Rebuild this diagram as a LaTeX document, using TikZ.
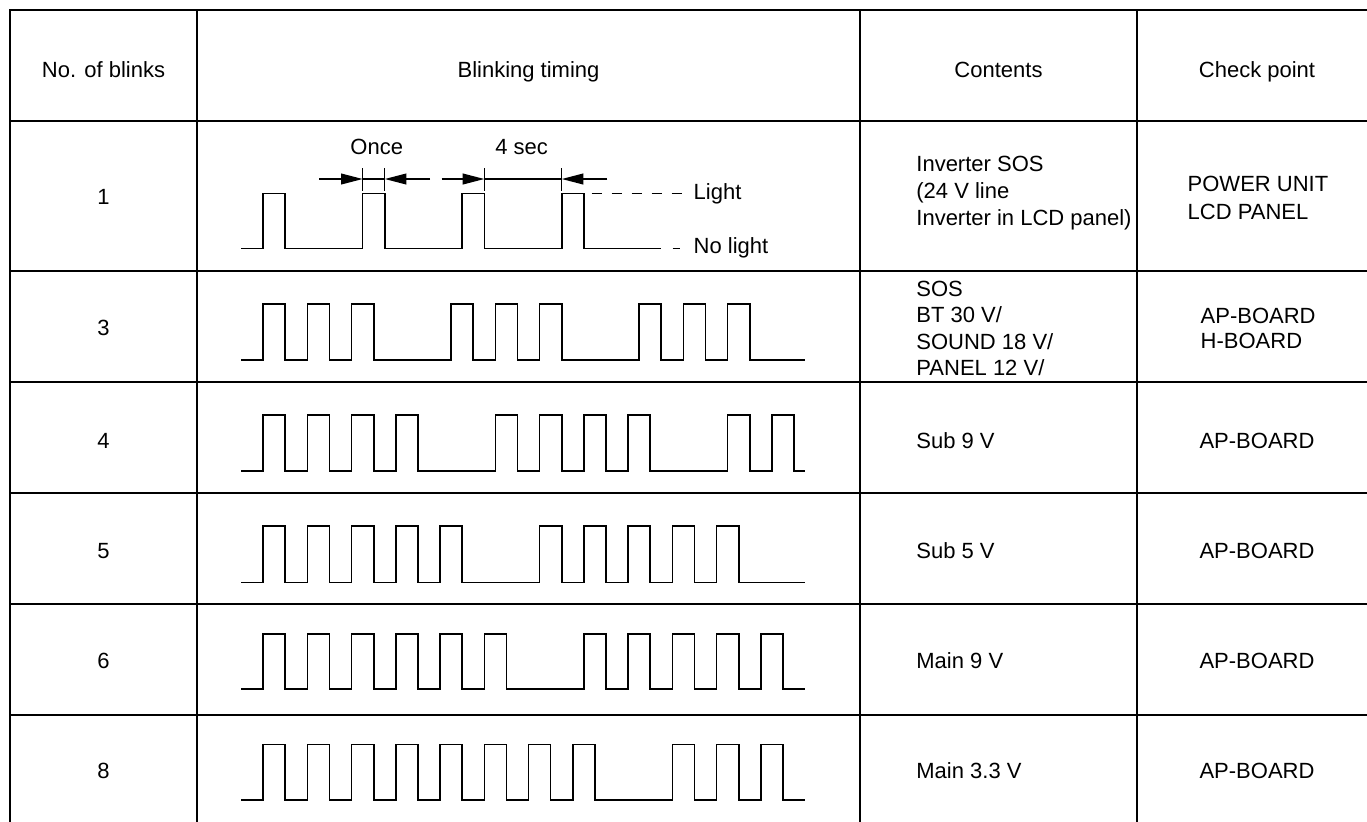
\documentclass[tikz,border=0pt]{standalone}
\usepackage{fontspec}
\setmainfont{Liberation Sans}
\usetikzlibrary{arrows.meta}
\newcommand{\mywave}[4]{% #1 high y, #2 low y, #3 rise list (units), #4 end (units)
  \draw[wave] (241,#2) \foreach \r in {#3} { -- ({241+\r*22.12},#2) -- ({241+\r*22.12},#1) -- ({241+(\r+1)*22.12},#1) -- ({241+(\r+1)*22.12},#2) } -- ({241+#4*22.12},#2);
}
\begin{document}
\begin{tikzpicture}[x=0.5pt,y=-0.5pt,
  rule/.style={line width=1pt,line cap=rect},
  wave/.style={line width=0.8pt,line join=miter},
  lbl/.style={inner sep=0pt,anchor=base,font=\fontsize{11}{13.5}\selectfont},
  lblw/.style={lbl,anchor=base west},
  dim/.style={line width=0.7pt},
  dimarrow/.style={dim,-{Triangle[length=10.8pt,width=5.4pt]}},
  tick/.style={line width=0.7pt},
  lightdash/.style={line width=0.7pt,dash pattern=on 5pt off 5pt}]
\useasboundingbox (0,0) rectangle (1367,821);
\fill[white] (0,0) rectangle (1367,821);
\clip (0,0) rectangle (1367,821);
% table rules
\foreach \yy in {10,120.7,270.7,381.7,493,604,715,826}
  \draw[rule] (10,\yy) -- (1377,\yy);
\foreach \xx in {10,196.7,860,1137.3,1377}
  \draw[rule] (\xx,10) -- (\xx,826);
% header
\node[lbl] (h1) at (103.5,77) {No. of blinks};
\node[lbl] (h2) at (528.5,77) {Blinking timing};
\node[lbl] (h3) at (998.5,77) {Contents};
\node[lbl] (h4) at (1257,77) {Check point};
% row numbers
\node[lbl] (n1) at (103.5,204.5) {1};
\node[lbl] (n3) at (103.5,335) {3};
\node[lbl] (n4) at (103.5,448) {4};
\node[lbl] (n5) at (103.5,558.5) {5};
\node[lbl] (n6) at (103.5,668) {6};
\node[lbl] (n8) at (103.5,778.5) {8};
% row 1 waveform
\mywave{193.3}{248.3}{1,5.5,10,14.5}{19}
\draw[lightdash] (591.7,193.3) -- (683.3,193.3);
\draw[dim] (672.7,248.3) -- (680,248.3);
\node[lblw] (light) at (693.3,199) {Light};
\node[lblw] (nolight) at (693.3,253) {No light};
% dimension marks
\coordinate (t1) at ({241+5.5*22.12},179);
\coordinate (t2) at ({241+6.5*22.12},179);
\coordinate (t3) at ({241+11*22.12},179);
\coordinate (t4) at ({241+14.5*22.12},179);
\coordinate (a1) at (319,179);
\coordinate (a2) at (430,179);
\coordinate (a3) at (441.7,179);
\coordinate (a4) at (607.3,179);
\foreach \t in {t1,t2,t3,t4}
  \draw[tick] ([yshift=5.5pt]\t) -- ([yshift=-5.8pt]\t);
\draw[dimarrow] (a1) -- (t1);
\draw[dim] (t1) -- (t2);
\draw[dimarrow] (a2) -- (t2);
\draw[dimarrow] (a3) -- (t3);
\draw[dim] (t3) -- (t4);
\draw[dimarrow] (a4) -- (t4);
\node[lbl] (once) at (376.7,154) {Once};
\node[lbl] (foursec) at (521.7,154) {4 sec};
% waveforms rows 3-8
\mywave{304}{360}{1,3,5,9.5,11.5,13.5,18,20,22}{25.5}
\mywave{415}{471}{1,3,5,7,11.5,13.5,15.5,17.5,22,24}{25.5}
\mywave{526}{582.3}{1,3,5,7,9,13.5,15.5,17.5,19.5,21.5}{25.5}
\mywave{633.7}{689}{1,3,5,7,9,11,15.5,17.5,19.5,21.5,23.5}{25.5}
\mywave{744.3}{799.7}{1,3,5,7,9,11,13,15,19.5,21.5,23.5}{25.5}
% contents
\node[lblw] (c1a) at (916,171) {Inverter SOS};
\node[lblw] (c1b) at (916,198) {(24 V line};
\node[lblw] (c1c) at (916,225) {Inverter in LCD panel)};
\node[lblw] (c3a) at (916,296) {SOS};
\node[lblw] (c3b) at (916,322.5) {BT 30 V/};
\node[lblw] (c3c) at (916,349) {SOUND 18 V/};
\node[lblw] (c3d) at (916,375.5) {PANEL 12 V/};
\node[lblw] (c4) at (916,448) {Sub 9 V};
\node[lblw] (c5) at (916,558.5) {Sub 5 V};
\node[lblw] (c6) at (916,668) {Main 9 V};
\node[lblw] (c8) at (916,778.5) {Main 3.3 V};
% check points
\node[lblw] (p1a) at (1187.3,191) {POWER UNIT};
\node[lblw] (p1b) at (1187.3,219) {LCD PANEL};
\node[lblw] (p3a) at (1200.3,323) {AP-BOARD};
\node[lblw] (p3b) at (1200.3,348.5) {H-BOARD};
\node[lbl] (p4) at (1257,448) {AP-BOARD};
\node[lbl] (p5) at (1257,558.5) {AP-BOARD};
\node[lbl] (p6) at (1257,668) {AP-BOARD};
\node[lbl] (p8) at (1257,778.5) {AP-BOARD};
\end{tikzpicture}
\end{document}
